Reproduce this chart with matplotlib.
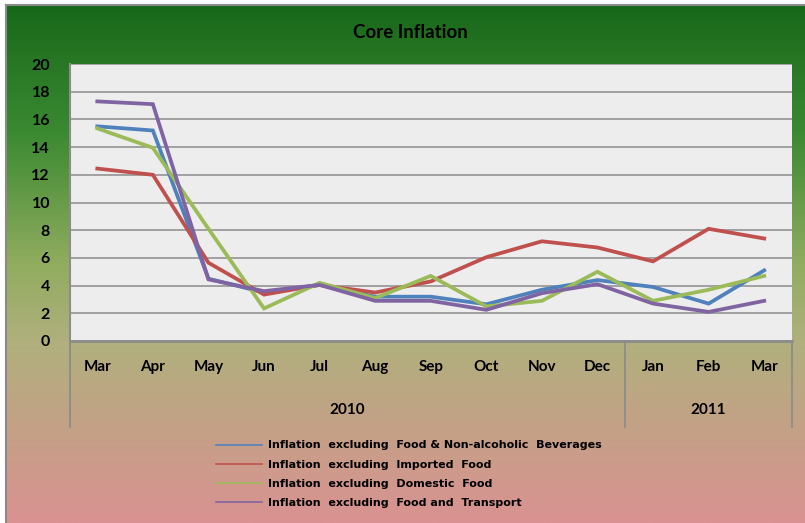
import matplotlib.pyplot as plt
import numpy as np
from matplotlib.colors import LinearSegmentedColormap
from matplotlib.lines import Line2D

plt.rcParams['font.family'] = ['Lato', 'DejaVu Sans']

# data
months = ['Mar', 'Apr', 'May', 'Jun', 'Jul', 'Aug', 'Sep', 'Oct', 'Nov', 'Dec', 'Jan', 'Feb', 'Mar']
years = ['2010', '2011']
year_counts = [10, 3]

excl_food_bev = [15.5, 15.2, 4.5, 3.5, 4.05, 3.2, 3.2, 2.65, 3.7, 4.4, 3.9, 2.7, 5.1]
excl_imported = [12.45, 12.0, 5.65, 3.35, 4.05, 3.5, 4.3, 6.05, 7.2, 6.75, 5.75, 8.1, 7.4]
excl_domestic = [15.35, 13.95, 8.1, 2.35, 4.2, 3.1, 4.7, 2.5, 2.9, 5.0, 2.9, 3.7, 4.7]
excl_food_transport = [17.3, 17.1, 4.45, 3.6, 4.05, 2.9, 2.9, 2.25, 3.45, 4.1, 2.7, 2.1, 2.9]

series = [
    ('Inflation  excluding  Food & Non-alcoholic  Beverages', excl_food_bev, '#4F81BD'),
    ('Inflation  excluding  Imported  Food', excl_imported, '#C0504D'),
    ('Inflation  excluding  Domestic  Food', excl_domestic, '#9BBB59'),
    ('Inflation  excluding  Food and  Transport', excl_food_transport, '#8064A2'),
]

W, H = 805, 523
fig = plt.figure(figsize=(W / 100, H / 100), dpi=100, facecolor='white')

# gradient background (green -> khaki -> pink)
bg = fig.add_axes([6 / W, 0, 1 - 6 / W, 1 - 5 / H])
cmap = LinearSegmentedColormap.from_list('bg', [
    (0.0, (24/255, 104/255, 26/255)),
    (0.25, (60/255, 138/255, 50/255)),
    (0.5, (145/255, 172/255, 95/255)),
    (0.65, (176/255, 176/255, 125/255)),
    (0.83, (197/255, 160/255, 135/255)),
    (1.0, (218/255, 146/255, 146/255)),
])
bg.imshow(np.linspace(0, 1, 256).reshape(-1, 1), aspect='auto', cmap=cmap,
          extent=[0, 1, 0, 1], origin='upper')
bg.set_xticks([])
bg.set_yticks([])
for s in bg.spines.values():
    s.set_color('#8a8a8a')
    s.set_linewidth(1.5)
bg.spines['right'].set_visible(False)
bg.spines['bottom'].set_visible(False)

# plot area
ax = fig.add_axes([69.5 / W, 1 - 341 / H, (792 - 69.5) / W, (341 - 64) / H])
ax.set_facecolor('#ededed')
x = np.arange(len(months))
for label, vals, color in series:
    ax.plot(x, vals, color=color, lw=2.7, label=label, solid_joinstyle='miter', zorder=3)

ax.set_xlim(-0.5, len(months) - 0.5)
ax.set_ylim(0, 20)
ax.set_yticks(np.arange(0, 21, 2))
ax.set_yticklabels([str(v) for v in range(0, 21, 2)], fontsize=11.5, fontweight='bold')
ax.tick_params(axis='y', length=0, pad=14)
ax.yaxis.grid(True, color='#8c8c8c', lw=1.1)
ax.set_axisbelow(True)

ax.set_xticks(x)
ax.set_xticklabels(months, fontsize=11, fontweight='bold')
ax.tick_params(axis='x', length=0, pad=14)

for side in ['top', 'right']:
    ax.spines[side].set_visible(False)
ax.spines['left'].set_color('#8c8c8c')
ax.spines['left'].set_linewidth(1.5)
ax.spines['bottom'].set_color('#8c8c8c')
ax.spines['bottom'].set_linewidth(2)

# category group separators and year labels
trans = ax.get_xaxis_transform()
depth = -(427 - 341) / (341 - 64)
start = 0
edges = [-0.5]
for yr, n in zip(years, year_counts):
    center = start + (n - 1) / 2
    ax.text(center, -(410 - 341) / (341 - 64), yr, transform=trans, ha='center', va='center',
            fontsize=11, fontweight='bold')
    start += n
    edges.append(start - 0.5)
for e in edges:
    ax.add_line(Line2D([e, e], [0, depth], transform=trans, color='#8c8c8c', lw=1.3, clip_on=False))

fig.text(410 / W, 1 - 32 / H, 'Core Inflation', ha='center', va='center', fontsize=13.5,
         fontweight='bold')

leg = ax.legend(loc='upper left', bbox_to_anchor=(212 / W, 1 - 436 / H), bbox_transform=fig.transFigure,
                frameon=False, prop={'family': 'DejaVu Sans', 'size': 8.0, 'weight': 'bold'},
                handlelength=4.1, handletextpad=0.5, labelspacing=0.82, borderaxespad=0)
for line in leg.get_lines():
    line.set_linewidth(1.2)

fig.savefig('out.png', dpi=100)
